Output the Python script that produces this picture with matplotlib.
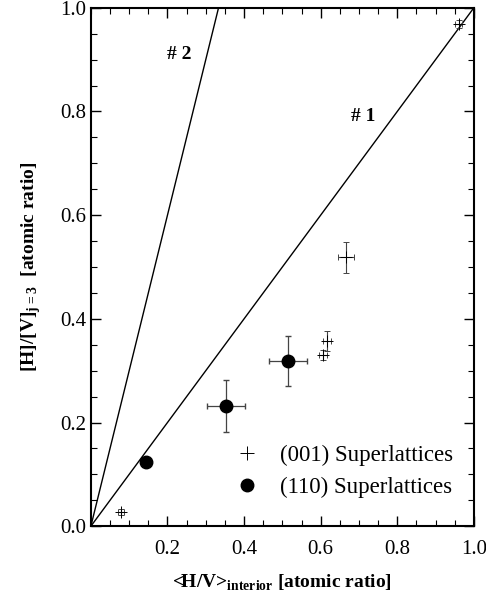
import matplotlib
matplotlib.use("Agg")
import matplotlib.pyplot as plt
import numpy as np
from matplotlib.lines import Line2D
from matplotlib.ticker import MultipleLocator

plt.rcParams["font.family"] = ["Liberation Serif", "DejaVu Serif"]
plt.rcParams["mathtext.fontset"] = "custom"
plt.rcParams["mathtext.rm"] = "Liberation Serif"
plt.rcParams["mathtext.bf"] = "Liberation Serif:bold"

# (001) superlattices
x001 = [0.96, 0.666, 0.616, 0.606, 0.078]
y001 = [0.969, 0.519, 0.357, 0.330, 0.027]
xerr001 = [0.01, 0.02, 0.01, 0.01, 0.008]
yerr001 = [0.008, 0.03, 0.02, 0.01, 0.006]

# (110) superlattices
x110 = [0.143, 0.353, 0.515]
y110 = [0.123, 0.232, 0.318]
xerr110 = [0.0, 0.05, 0.05]
yerr110 = [0.0, 0.05, 0.048]

# reference lines through the origin
slope_1 = 1.0
slope_2 = 3.0

fig = plt.figure(figsize=(4.86, 6.0), dpi=100)
ax = fig.add_axes([0.187, 0.123, 0.788, 0.864])

xs = np.array([0.0, 1.0])
ax.plot(xs, slope_1 * xs, color="black", lw=1.0)
ax.plot(xs, slope_2 * xs, color="black", lw=1.0)

ax.errorbar(x001, y001, xerr=xerr001, yerr=yerr001, fmt="+", color="black",
            ecolor="#444444", elinewidth=0.8, capsize=2.5, markersize=9,
            markeredgewidth=0.7)
ax.errorbar(x110, y110, xerr=xerr110, yerr=yerr110, fmt="o", color="black",
            ecolor="#444444", elinewidth=0.9, capsize=2.5, markersize=9)

ax.text(0.23, 0.91, "# 2", fontsize=14, fontweight="bold", ha="center", va="center")
ax.text(0.71, 0.79, "# 1", fontsize=14, fontweight="bold", ha="center", va="center")

ax.set_xlim(0, 1.0)
ax.set_ylim(0, 1.0)
ax.xaxis.set_minor_locator(MultipleLocator(0.05))
ax.yaxis.set_minor_locator(MultipleLocator(0.05))
ax.set_xticks([0.2, 0.4, 0.6, 0.8, 1.0])
ax.set_xticklabels(["0.2", "0.4", "0.6", "0.8", "1.0"])
ax.set_yticks([0.0, 0.2, 0.4, 0.6, 0.8, 1.0])
ax.set_yticklabels(["0.0", "0.2", "0.4", "0.6", "0.8", "1.0"])
ax.tick_params(which="both", direction="in", top=True, right=True, labelsize=15)
ax.tick_params(which="major", length=7, width=1.0)
ax.tick_params(which="minor", length=4, width=0.8)
ax.tick_params(axis="x", pad=10)
for s in ax.spines.values():
    s.set_linewidth(1.5)

ax.set_xlabel(r"<H/V>$_{\mathbf{interior}}$ [atomic ratio]", fontsize=14,
              fontweight="bold", labelpad=10)
ax.set_ylabel(r"[H]/[V]$_{\mathbf{j=3}}$  [atomic ratio]", fontsize=14,
              fontweight="bold", labelpad=12)

handles = [
    Line2D([], [], ls="none", marker="+", color="black", markersize=10,
           markeredgewidth=0.7),
    Line2D([], [], ls="none", marker="o", color="black", markersize=9),
]
ax.legend(handles, ["(001) Superlattices", "(110) Superlattices"],
          loc="lower right", bbox_to_anchor=(1.0, 0.015), frameon=False,
          fontsize=16.5, handletextpad=0.7, labelspacing=0.45, handlelength=1.5)

fig.savefig("out.png", dpi=100)
